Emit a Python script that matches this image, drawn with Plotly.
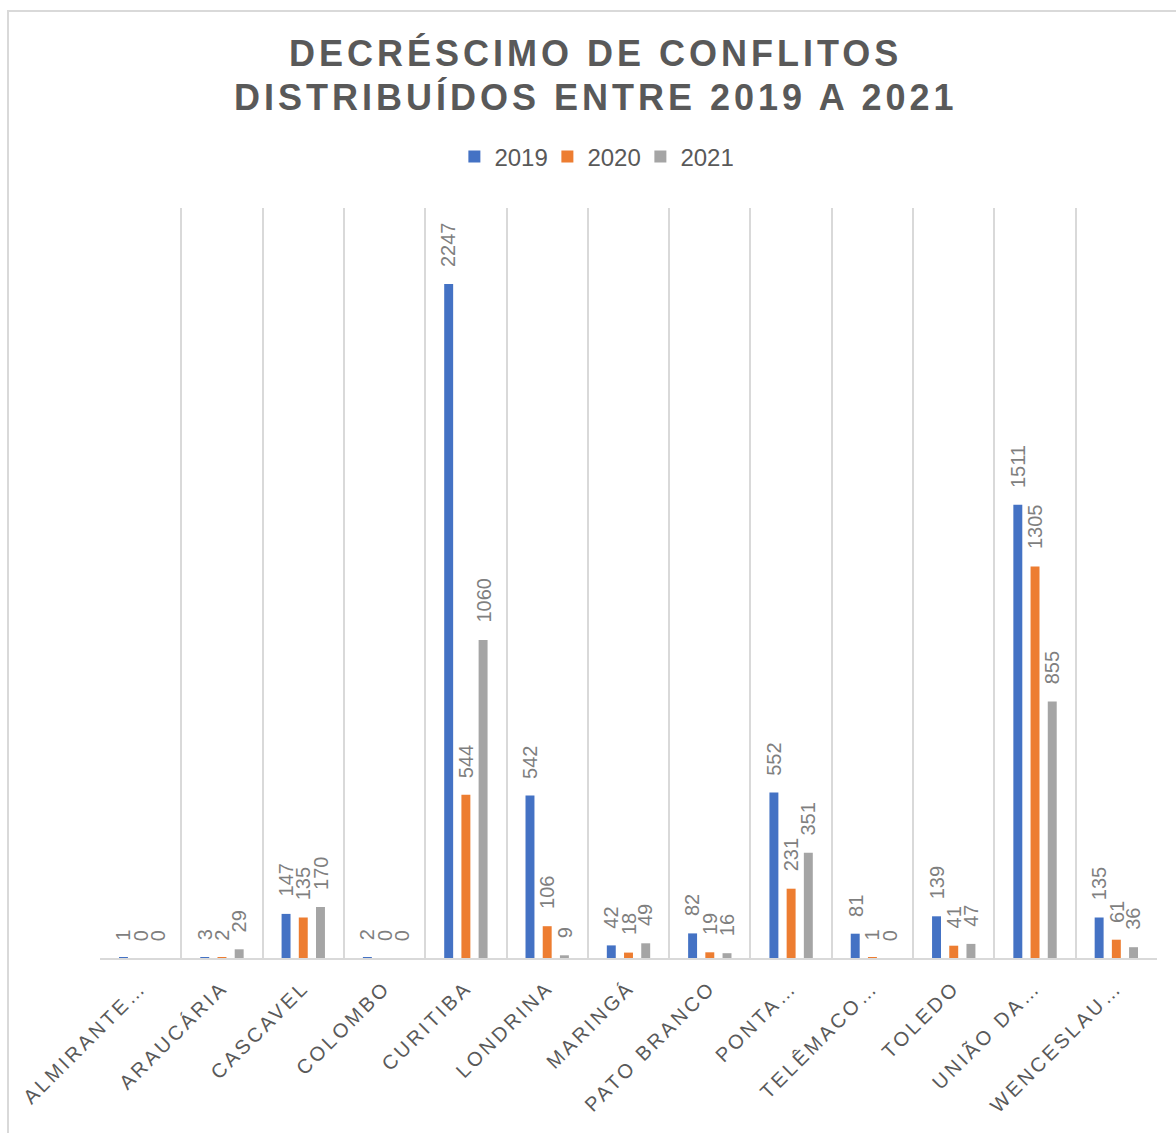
import plotly.graph_objects as go

categories = ["ALMIRANTE…", "ARAUCÁRIA", "CASCAVEL", "COLOMBO", "CURITIBA", "LONDRINA",
              "MARINGÁ", "PATO BRANCO", "PONTA…", "TELÊMACO…", "TOLEDO", "UNIÃO DA…", "WENCESLAU…"]
v2019 = [1, 3, 147, 2, 2247, 542, 42, 82, 552, 81, 139, 1511, 135]
v2020 = [0, 2, 135, 0, 544, 106, 18, 19, 231, 1, 41, 1305, 61]
v2021 = [0, 29, 170, 0, 1060, 9, 49, 16, 351, 0, 47, 855, 36]
series_names = ["2019", "2020", "2021"]
colors = ["#4472C4", "#ED7D31", "#A5A5A5"]
title_lines = ["DECRÉSCIMO DE CONFLITOS", "DISTRIBUÍDOS ENTRE 2019 A 2021"]

W, H = 1176, 1133
ML, MR, MT, MB = 100, 19, 208, 175
plot_w = W - ML - MR
plot_h = H - MT - MB
BARGAP = 0.365
FONT = "Liberation Sans, Arial, sans-serif"

fig = go.Figure()
all_vals = [v2019, v2020, v2021]
for name, vals, col in zip(series_names, all_vals, colors):
    fig.add_trace(go.Bar(name=name, x=categories, y=vals, marker=dict(color=col, line=dict(width=0))))

cat_px = plot_w / len(categories)
slot = (1 - BARGAP) * cat_px / 3
annotations = []
for k, line in enumerate(title_lines):
    annotations.append(dict(text="<b>%s</b>" % line, xref="paper", yref="paper",
                            x=(595.5 - ML) / plot_w, y=1 + (MT - (54 if k == 0 else 97)) / plot_h,
                            xanchor="center", yanchor="middle", showarrow=False,
                            font=dict(family=FONT, size=36, color="#595959")))
for i, vals in enumerate(all_vals):
    for c, v in zip(categories, vals):
        annotations.append(dict(text=str(v), x=c, y=v, xref="x", yref="y", showarrow=False,
                                textangle=-90, xanchor="center", yanchor="bottom",
                                xshift=(i - 1) * slot, yshift=15,
                                font=dict(family=FONT, size=20, color="#7f7f7f")))

fig.update_layout(
    width=W, height=H, margin=dict(l=ML, r=MR, t=MT, b=MB, autoexpand=False),
    paper_bgcolor="white", plot_bgcolor="white",
    barmode="group", bargap=BARGAP, bargroupgap=0.48,
    showlegend=True,
    legend=dict(orientation="h", xref="container", yref="container", x=0.505, y=1 - 157 / H,
                xanchor="center", yanchor="middle", itemwidth=30, entrywidth=48,
                font=dict(family=FONT, size=24, color="#595959")),
    annotations=annotations,
    xaxis=dict(type="category", tickson="boundaries", showgrid=True, gridcolor="#d9d9d9", gridwidth=2,
               showline=True, linecolor="#d9d9d9", linewidth=2, ticks="", tickangle=-45,
               ticklabelstandoff=8,
               tickfont=dict(family=FONT, size=20, color="#595959"), fixedrange=True),
    yaxis=dict(range=[0, 2500], visible=False, showgrid=False, zeroline=False, fixedrange=True),
    shapes=[dict(type="rect", xref="paper", yref="paper",
                 x0=(8 - ML) / plot_w, x1=(1200 - ML) / plot_w,
                 y0=1 + (MT - 1160) / plot_h, y1=1 + (MT - 11) / plot_h,
                 line=dict(color="#d9d9d9", width=2), fillcolor="rgba(0,0,0,0)", layer="below")],
)

post = """
var gd = document.getElementById('{plot_id}');
gd.querySelectorAll('.xtick text').forEach(function(t){ t.style.letterSpacing='3px'; });
gd.querySelectorAll('g.annotation[data-index="0"] text, g.annotation[data-index="1"] text').forEach(function(t){ t.style.letterSpacing='4px'; });
"""
fig.write_html("out.html", post_script=post, config={"displayModeBar": False})
